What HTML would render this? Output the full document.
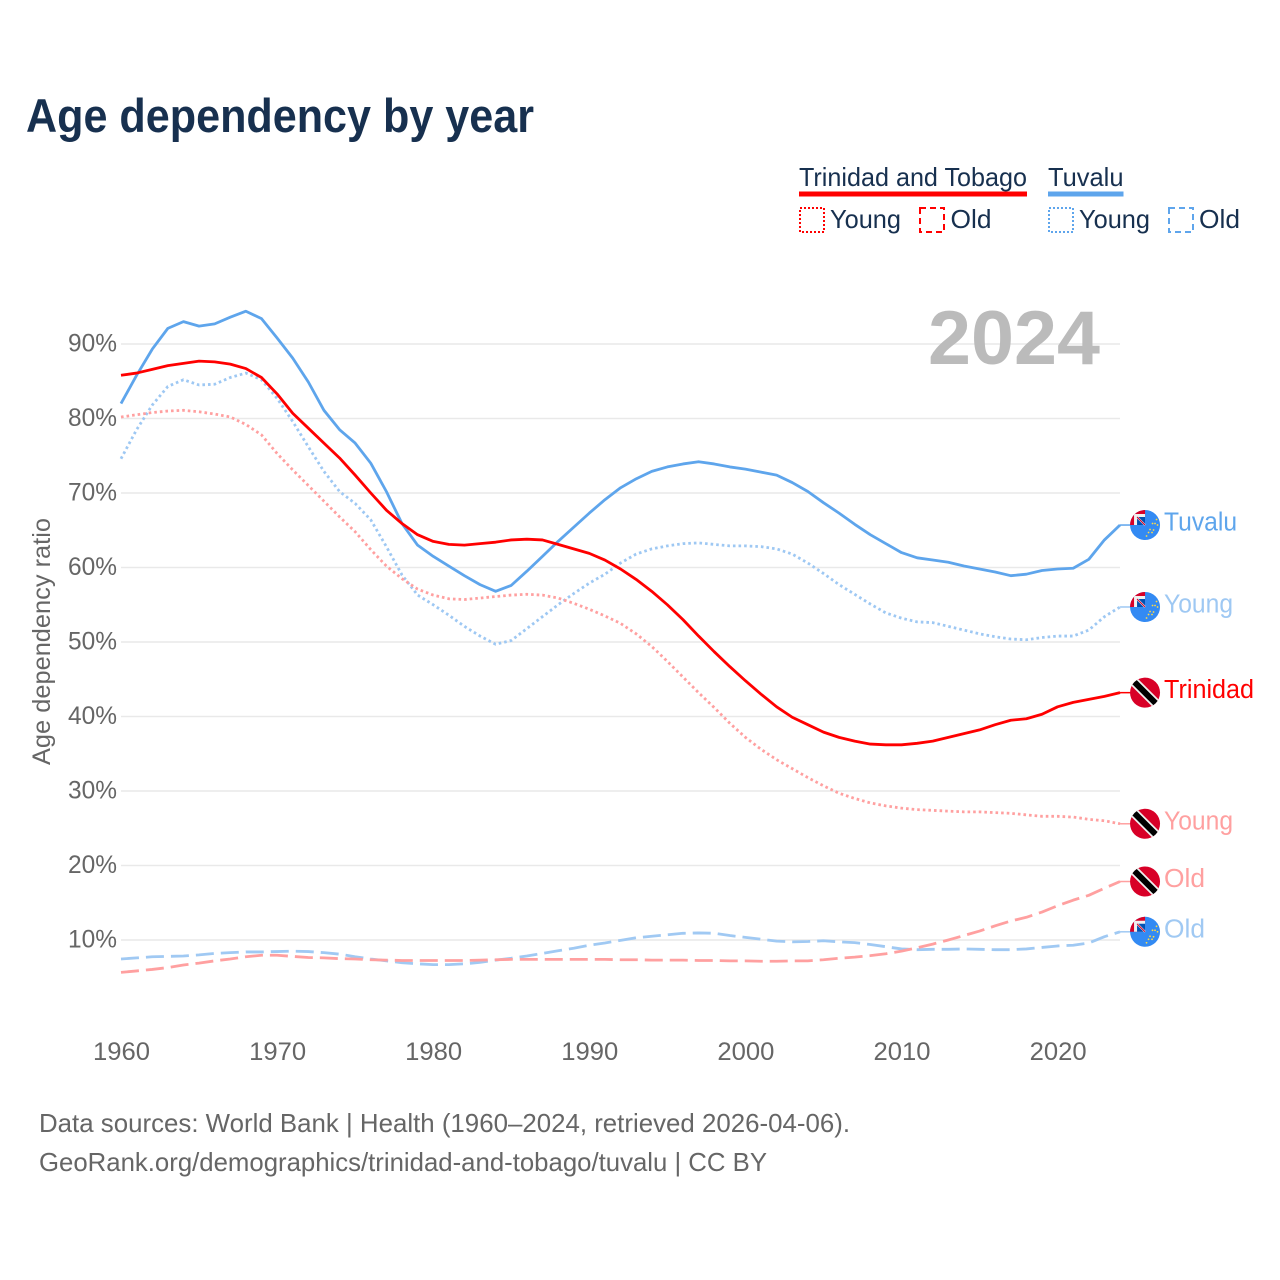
<!DOCTYPE html>
<html lang="en">
<head>
<meta charset="utf-8">
<title>Age dependency by year</title>
<style>
html,body{margin:0;padding:0;background:#fff;}
svg{display:block;font-family:"Liberation Sans",sans-serif;}
</style>
</head>
<body>
<svg id="chart" xmlns="http://www.w3.org/2000/svg" width="1280" height="1280" viewBox="0 0 1280 1280">
  <defs>
    <clipPath id="flag-clip"><circle cx="0" cy="0" r="15"/></clipPath>
    <g id="flag-tt" clip-path="url(#flag-clip)">
      <rect x="-16" y="-16" width="32" height="32" fill="#d80027"/>
      <line x1="-13" y1="-13" x2="13" y2="13" stroke="#f0f0f0" stroke-width="9.5"/>
      <line x1="-13" y1="-13" x2="13" y2="13" stroke="#000" stroke-width="6"/>
    </g>
    <g id="flag-tv" clip-path="url(#flag-clip)">
      <rect x="-16" y="-16" width="32" height="32" fill="#338af3"/>
      <path d="M-16 0V-16H0V0Z" fill="#d80027"/>
      <path d="M-11 0V-11H0V0Z" fill="#f0f0f0"/>
      <path d="M-8 0V-8H0V0Z" fill="#0052b4"/>
      <line x1="-8" y1="-8" x2="0" y2="0" stroke="#f0f0f0" stroke-width="2"/>
      <line x1="-8" y1="-8" x2="0" y2="0" stroke="#d80027" stroke-width="1"/>
      <g fill="#ffda44">
        <circle cx="11.5" cy="-5.5" r="0.9"/><circle cx="7.5" cy="-1.5" r="0.9"/><circle cx="10" cy="-1.5" r="0.9"/>
        <circle cx="12.5" cy="0" r="0.9"/><circle cx="5" cy="4.5" r="0.9"/><circle cx="8.5" cy="5" r="0.9"/>
        <circle cx="3.5" cy="7.5" r="0.9"/><circle cx="7" cy="7.5" r="0.9"/><circle cx="1.5" cy="11" r="0.9"/>
      </g>
    </g>
  </defs>

  <text x="26" y="132" font-size="47" font-weight="700" fill="#17304f" textLength="508" lengthAdjust="spacingAndGlyphs">Age dependency by year</text>

  <g font-size="26" fill="#17304f">
    <g>
      <text x="799" y="186" textLength="228" lengthAdjust="spacingAndGlyphs">Trinidad and Tobago</text>
      <rect x="799" y="191.5" width="228" height="5" fill="#ff0000"/>
    </g>
    <g>
      <text x="1048" y="186" textLength="75.5" lengthAdjust="spacingAndGlyphs">Tuvalu</text>
      <rect x="1048" y="191.5" width="75.5" height="5" fill="#5ea5ec"/>
    </g>
    <g>
      <rect x="800" y="208" width="24" height="24" fill="none" stroke="#ff0000" stroke-width="2" stroke-dasharray="2 2"/>
      <text x="830" y="228" textLength="71" lengthAdjust="spacingAndGlyphs">Young</text>
    </g>
    <g>
      <rect x="920" y="208" width="24" height="24" fill="none" stroke="#ff0000" stroke-width="2" stroke-dasharray="6 4"/>
      <text x="950.5" y="228" textLength="41" lengthAdjust="spacingAndGlyphs">Old</text>
    </g>
    <g>
      <rect x="1049" y="208" width="24" height="24" fill="none" stroke="#5ea5ec" stroke-width="2" stroke-dasharray="2 2"/>
      <text x="1079" y="228" textLength="71" lengthAdjust="spacingAndGlyphs">Young</text>
    </g>
    <g>
      <rect x="1169" y="208" width="24" height="24" fill="none" stroke="#5ea5ec" stroke-width="2" stroke-dasharray="6 4"/>
      <text x="1199" y="228" textLength="41" lengthAdjust="spacingAndGlyphs">Old</text>
    </g>
  </g>

  <g id="grid"></g>
  <g id="y-ticks"></g>
  <g id="x-ticks"></g>

  <text transform="translate(50 641.5) rotate(-90)" text-anchor="middle" font-size="25" fill="#666" textLength="247" lengthAdjust="spacingAndGlyphs">Age dependency ratio</text>

  <text x="928" y="364" font-size="76" font-weight="700" fill="#bbbbbb" textLength="172" lengthAdjust="spacingAndGlyphs">2024</text>

  <g id="series"></g>
  <g id="ends"></g>

  <text x="39" y="1132" font-size="26" fill="#666" textLength="811" lengthAdjust="spacingAndGlyphs">Data sources: World Bank | Health (1960–2024, retrieved 2026-04-06).</text>
  <text x="39" y="1171" font-size="26" fill="#666" textLength="728" lengthAdjust="spacingAndGlyphs">GeoRank.org/demographics/trinidad-and-tobago/tuvalu | CC BY</text>
</svg>
<script>
const firstYear = 1960;
const yTickValues = [10, 20, 30, 40, 50, 60, 70, 80, 90];
const xTickValues = [1960, 1970, 1980, 1990, 2000, 2010, 2020];

const tuvaluTotal = [82.0,85.8,89.3,92.1,93.0,92.4,92.7,93.6,94.4,93.4,90.8,88.1,84.9,81.1,78.5,76.7,74.0,70.2,65.9,63.0,61.5,60.2,58.9,57.7,56.8,57.6,59.5,61.5,63.5,65.4,67.3,69.1,70.7,71.9,72.9,73.5,73.9,74.2,73.9,73.5,73.2,72.8,72.4,71.4,70.2,68.7,67.3,65.8,64.4,63.2,62.0,61.3,61.0,60.7,60.2,59.8,59.4,58.9,59.1,59.6,59.8,59.9,61.1,63.7,65.7];
const tuvaluYoung = [74.6,78.5,81.8,84.3,85.2,84.5,84.6,85.5,86.1,85.2,82.7,79.6,76.2,72.9,70.2,68.6,66.4,62.8,59.0,56.3,55.0,53.6,52.1,50.8,49.7,50.2,51.8,53.4,55.0,56.5,57.9,59.1,60.6,61.8,62.5,62.9,63.2,63.3,63.1,62.9,62.9,62.8,62.5,61.8,60.6,59.2,57.7,56.4,55.1,53.9,53.2,52.7,52.6,52.1,51.6,51.1,50.7,50.4,50.3,50.6,50.8,50.8,51.6,53.4,54.7];
const tuvaluOld = [7.45,7.6,7.75,7.8,7.85,8.0,8.2,8.3,8.4,8.4,8.45,8.5,8.45,8.3,8.1,7.75,7.45,7.2,6.95,6.8,6.7,6.7,6.8,7.0,7.3,7.55,7.85,8.2,8.55,8.9,9.3,9.6,9.95,10.3,10.5,10.7,10.9,10.95,10.9,10.6,10.35,10.1,9.85,9.75,9.8,9.9,9.75,9.65,9.4,9.1,8.8,8.7,8.75,8.75,8.8,8.75,8.7,8.7,8.8,9.0,9.2,9.3,9.6,10.45,11.1];
const trinidadTotal = [85.8,86.1,86.6,87.1,87.4,87.7,87.6,87.3,86.7,85.5,83.3,80.7,78.7,76.7,74.7,72.4,70.0,67.7,65.9,64.4,63.5,63.1,63.0,63.2,63.4,63.7,63.8,63.7,63.1,62.5,61.9,61.0,59.8,58.4,56.8,55.0,53.0,50.8,48.7,46.7,44.8,43.0,41.3,39.9,38.9,37.9,37.2,36.7,36.3,36.2,36.2,36.4,36.7,37.2,37.7,38.2,38.9,39.5,39.7,40.3,41.3,41.9,42.3,42.7,43.2];
const trinidadYoung = [80.2,80.5,80.8,81.0,81.1,80.9,80.6,80.2,79.2,77.8,75.3,73.1,71.0,68.9,66.8,64.8,62.4,60.2,58.5,57.1,56.3,55.8,55.7,55.9,56.1,56.3,56.4,56.3,55.9,55.2,54.4,53.5,52.5,51.1,49.4,47.4,45.3,43.2,41.2,39.1,37.2,35.6,34.2,33.0,31.8,30.7,29.7,29.0,28.4,28.0,27.7,27.5,27.4,27.3,27.2,27.2,27.1,27.0,26.8,26.6,26.6,26.5,26.2,26.0,25.6];
const trinidadOld = [5.65,5.85,6.05,6.3,6.65,6.9,7.2,7.45,7.75,7.95,7.95,7.8,7.65,7.6,7.5,7.45,7.35,7.3,7.25,7.25,7.25,7.25,7.25,7.3,7.35,7.4,7.4,7.4,7.4,7.4,7.4,7.4,7.35,7.35,7.3,7.3,7.3,7.25,7.25,7.2,7.2,7.15,7.15,7.2,7.2,7.35,7.55,7.7,7.9,8.15,8.5,8.95,9.45,10.0,10.6,11.2,11.9,12.55,13.05,13.75,14.6,15.35,16.0,16.95,17.85];

const NS = 'http://www.w3.org/2000/svg';
function xScale(year) { return 121 + (year - firstYear) * 15.61; }
function yScale(value) { return 940 - (value - 10) * 7.45; }
function make(tag, attrs) {
  const el = document.createElementNS(NS, tag);
  for (const k in attrs) el.setAttribute(k, attrs[k]);
  return el;
}

const gridGroup = document.getElementById('grid');
const yTickGroup = document.getElementById('y-ticks');
yTickValues.forEach(function (v) {
  const line = make('line', { x1: 121, x2: 1120, y1: yScale(v), y2: yScale(v), stroke: '#e9e9e9', 'stroke-width': 1.5 });
  
  
  gridGroup.appendChild(line);
  const label = make('text', { x: 68, y: yScale(v) + 7.5, 'font-size': 25, fill: '#666', textLength: 49, lengthAdjust: 'spacingAndGlyphs' });
  
  
  label.textContent = v + '%';
  yTickGroup.appendChild(label);
});

const xTickGroup = document.getElementById('x-ticks');
xTickValues.forEach(function (y) {
  const label = make('text', { x: xScale(y) - 28, y: 1060, 'font-size': 25, fill: '#666', textLength: 57, lengthAdjust: 'spacingAndGlyphs' });
  
  
  label.textContent = y;
  xTickGroup.appendChild(label);
});

const seriesList = [
  { key: 'tuvalu-old', values: tuvaluOld, color: '#a0c9f3', dash: '18 7', flag: 'flag-tv', text: 'Old', len: 41 },
  { key: 'trinidad-old', values: trinidadOld, color: '#ffa0a0', dash: '18 7', flag: 'flag-tt', text: 'Old', len: 41 },
  { key: 'tuvalu-young', values: tuvaluYoung, color: '#9ec8f3', dash: '2.6 3', flag: 'flag-tv', text: 'Young', len: 69 },
  { key: 'trinidad-young', values: trinidadYoung, color: '#ffa0a0', dash: '2.6 3', flag: 'flag-tt', text: 'Young', len: 69 },
  { key: 'tuvalu-total', values: tuvaluTotal, color: '#5ea5ec', dash: null, flag: 'flag-tv', text: 'Tuvalu', len: 73 },
  { key: 'trinidad-total', values: trinidadTotal, color: '#ff0000', dash: null, flag: 'flag-tt', text: 'Trinidad', len: 90 }
];

const seriesGroup = document.getElementById('series');
const endsGroup = document.getElementById('ends');
seriesList.forEach(function (s) {
  const d = s.values.map(function (v, i) {
    return (i ? 'L' : 'M') + xScale(firstYear + i).toFixed(2) + ' ' + yScale(v).toFixed(2);
  }).join('');
  const path = make('path', { d: d, fill: 'none', stroke: s.color, 'stroke-width': 2.8, 'stroke-linejoin': 'round' });
  if (s.dash) path.setAttribute('stroke-dasharray', s.dash);
  
  
  seriesGroup.appendChild(path);

  const lastValue = s.values[s.values.length - 1];
  const lastX = xScale(firstYear + s.values.length - 1);
  const lastY = yScale(lastValue);

  const stub = make('line', { x1: lastX, x2: lastX + 12, y1: lastY, y2: lastY, stroke: s.color, 'stroke-width': 1.5 });
  
  
  endsGroup.appendChild(stub);

  const flag = make('use', { href: '#' + s.flag, x: lastX + 25, y: lastY });
  
  
  endsGroup.appendChild(flag);

  const label = make('text', { x: lastX + 44, y: lastY + 5.5, 'font-size': 25.5, fill: s.color, textLength: s.len, lengthAdjust: 'spacingAndGlyphs' });
  
  
  label.textContent = s.text;
  endsGroup.appendChild(label);
});
</script>
</body>
</html>
